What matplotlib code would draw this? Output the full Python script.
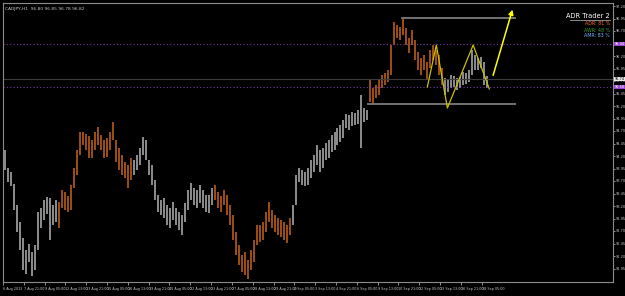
import matplotlib
matplotlib.use('Agg')
import matplotlib.pyplot as plt
import numpy as np

# CADJPY H1 bar highs / lows (one bar per ~4-5 hours)
highs = [94.32, 93.96, 93.88, 93.64, 93.22, 92.88, 92.56, 92.32, 92.44, 92.28,
         92.42, 93.08, 93.16, 93.32, 93.38, 93.36, 93.22, 93.32, 93.28, 93.52,
         93.48, 93.40, 93.62, 93.96, 94.32, 94.68, 94.68, 94.64, 94.60, 94.52,
         94.68, 94.78, 94.62, 94.52, 94.56, 94.68, 94.88, 94.52, 94.36, 94.22,
         94.08, 94.02, 94.16, 94.12, 94.22, 94.36, 94.58, 94.52, 94.12, 94.02,
         93.72, 93.42, 93.32, 93.36, 93.22, 93.16, 93.28, 93.16, 93.08, 93.02,
         93.26, 93.52, 93.66, 93.56, 93.52, 93.62, 93.52, 93.42, 93.42, 93.56,
         93.62, 93.48, 93.40, 93.52, 93.42, 93.22, 93.02, 92.68, 92.42, 92.22,
         92.28, 92.12, 92.32, 92.52, 92.82, 92.82, 92.88, 93.08, 93.28, 93.12,
         93.02, 92.96, 92.92, 92.88, 92.82, 92.96, 93.22, 93.82, 93.96, 93.92,
         93.88, 93.96, 94.12, 94.22, 94.42, 94.32, 94.36, 94.46, 94.52, 94.62,
         94.68, 94.76, 94.82, 94.92, 95.04, 95.02, 95.08, 95.06, 95.12, 95.42,
         95.16, 95.12, 95.72, 95.56, 95.62, 95.72, 95.82, 95.86, 95.92, 96.42,
         96.88, 96.82, 96.78, 96.94, 96.76, 96.56, 96.72, 96.52, 96.28, 96.16,
         96.22, 96.08, 96.32, 96.42, 96.32, 96.22, 95.96, 95.76, 95.72, 95.82,
         95.80, 95.76, 95.78, 95.88, 95.86, 95.92, 96.32, 96.22, 96.16, 96.18,
         96.08, 95.80]
lows = [93.92, 93.68, 93.60, 93.12, 92.68, 92.32, 91.92, 91.84, 92.08, 91.80,
        91.92, 92.32, 92.76, 92.92, 93.04, 92.52, 92.82, 92.88, 92.76, 93.16,
        93.12, 93.08, 93.12, 93.56, 93.82, 94.22, 94.42, 94.32, 94.16, 94.16,
        94.32, 94.42, 94.32, 94.16, 94.18, 94.32, 94.52, 94.08, 93.92, 93.82,
        93.76, 93.56, 93.72, 93.82, 93.92, 94.02, 94.22, 94.12, 93.82, 93.62,
        93.32, 93.08, 93.02, 92.96, 92.82, 92.76, 92.92, 92.82, 92.72, 92.62,
        92.88, 93.12, 93.32, 93.22, 93.16, 93.26, 93.16, 93.08, 93.06, 93.22,
        93.32, 93.16, 93.08, 93.22, 93.02, 92.82, 92.52, 92.22, 92.02, 91.88,
        91.82, 91.74, 91.92, 92.08, 92.42, 92.48, 92.52, 92.68, 92.88, 92.76,
        92.68, 92.62, 92.58, 92.52, 92.46, 92.62, 92.82, 93.22, 93.68, 93.62,
        93.60, 93.62, 93.76, 93.88, 94.02, 93.88, 93.96, 94.12, 94.16, 94.28,
        94.32, 94.42, 94.48, 94.56, 94.76, 94.72, 94.80, 94.82, 94.84, 94.36,
        94.88, 94.92, 95.28, 95.24, 95.36, 95.42, 95.56, 95.62, 95.68, 95.82,
        96.42, 96.56, 96.52, 96.62, 96.42, 96.26, 96.42, 96.12, 95.92, 95.82,
        95.92, 95.72, 95.96, 96.12, 96.02, 95.82, 95.62, 95.42, 95.48, 95.56,
        95.58, 95.52, 95.56, 95.62, 95.64, 95.68, 95.82, 95.92, 95.92, 95.96,
        95.62, 95.56]

# first bar of each trading week (colours alternate gray / orange)
week_starts = [0, 18, 43, 70, 96, 122, 147]
week_colors = ['#b4b4b4', '#c8641a']

# ADR Trader levels and pattern
level_high = 96.96
level_low = 95.24
level_high_from = 132.7
level_low_from = 121.3
level_to = 170.3
pivot_upper = 96.44
pivot_lower = 95.58
bid_price = 95.74
zigzag_x = [141.0, 144.0, 147.7, 156.3, 161.7]
zigzag_y = [95.58, 96.42, 95.16, 96.42, 95.54]
arrow_x = [162.7, 169.7]
arrow_y = [95.76, 97.18]

price_ticks = [91.95, 92.20, 92.45, 92.70, 92.95, 93.20, 93.45, 93.70, 93.95, 94.20, 94.45,
               94.70, 94.95, 95.20, 95.45, 95.70, 95.95, 96.20, 96.45, 96.70, 96.95, 97.20]
time_labels = ['6 Aug 2013', '7 Aug 21:00', '9 Aug 05:00', '12 Aug 13:00', '13 Aug 21:00',
               '15 Aug 05:00', '16 Aug 13:00', '19 Aug 21:00', '21 Aug 05:00', '22 Aug 13:00',
               '23 Aug 21:00', '27 Aug 05:00', '28 Aug 13:00', '29 Aug 21:00', '2 Sep 05:00',
               '3 Sep 13:00', '4 Sep 21:00', '6 Sep 05:00', '9 Sep 13:00', '10 Sep 21:00',
               '12 Sep 05:00', '13 Sep 13:00', '16 Sep 21:00', '18 Sep 05:00']
time_pos = [-0.7 + 6.95 * k for k in range(len(time_labels))]

# colour per bar
bar_x = np.arange(len(highs))
bar_colors = []
for i in bar_x:
    week = sum(1 for s in week_starts if s <= i) - 1
    bar_colors.append(week_colors[week % 2])

fig = plt.figure(figsize=(6.25, 2.96), dpi=100, facecolor='black')
ax = fig.add_axes([3 / 625, 1 - 282 / 296, 610 / 625, 279 / 296])
ax.set_facecolor('black')

ax.vlines(bar_x, lows, highs, colors=bar_colors, lw=1.1)

# horizontal lines
ax.axhline(pivot_upper, color='#7a34a8', lw=0.8, ls=(0, (1, 2)))
ax.axhline(pivot_lower, color='#7a34a8', lw=0.8, ls=(0, (1, 2)))
ax.axhline(bid_price, color='#3c3c3c', lw=0.8)
ax.plot([level_high_from, level_to], [level_high, level_high], color='#7c7c7c', lw=1.3)
ax.plot([level_low_from, level_to], [level_low, level_low], color='#7c7c7c', lw=1.3)

# yellow pattern and arrow
ax.plot(zigzag_x, zigzag_y, color='#c8c000', lw=0.9)
ax.annotate('', xy=(arrow_x[1], arrow_y[1]), xytext=(arrow_x[0], arrow_y[0]),
            arrowprops=dict(arrowstyle='-|>', color='#ffff00', lw=1.1, mutation_scale=7))

ax.set_xlim(-0.333, 203)
ax.set_ylim(91.68, 97.26)

# axes look
for side in ['left', 'right', 'bottom', 'top']:
    ax.spines[side].set_color('#8c8c8c')
    ax.spines[side].set_linewidth(0.8)
ax.yaxis.tick_right()
ax.set_yticks(price_ticks)
ax.set_yticklabels(['%.2f' % p for p in price_ticks])
ax.tick_params(axis='y', colors='#c8c8c8', labelsize=2.5, length=1.2, width=0.5, pad=0.6)
ax.set_xticks(time_pos)
ax.set_xticklabels(time_labels, ha='left')
ax.tick_params(axis='x', colors='#c8c8c8', labelsize=2.4, length=2, width=0.5, pad=1.5)

# price boxes on the right scale
for p, face, txt in [(pivot_upper, '#9a44d0', 'white'), (pivot_lower, '#9a44d0', 'white'),
                     (bid_price, '#e8e8e8', 'black')]:
    ax.text(1.0025, p, '%.2f' % p, transform=ax.get_yaxis_transform(), fontsize=2.5,
            color=txt, va='center', ha='left',
            bbox=dict(boxstyle='square,pad=0.12', fc=face, ec='none'))

# header texts
ax.text(0.004, 0.985, 'CADJPY,H1  96.80 96.85 96.78 96.82', transform=ax.transAxes,
        fontsize=3.2, color='#c8c8c8', va='top', ha='left')
ax.text(0.995, 0.955, 'ADR Trader 2', transform=ax.transAxes, fontsize=4.8,
        color='white', va='center', ha='right')
ax.plot([0.93, 0.995], [0.94, 0.94], transform=ax.transAxes, color='#a0a0a0', lw=0.6)
ax.text(0.995, 0.925, 'ADR: 81 %', transform=ax.transAxes, fontsize=3.4,
        color='#ff6a2a', va='center', ha='right')
ax.text(0.995, 0.903, 'AWR: 48 %', transform=ax.transAxes, fontsize=3.4,
        color='#34a034', va='center', ha='right')
ax.text(0.995, 0.883, 'AMR: 83 %', transform=ax.transAxes, fontsize=3.4,
        color='#7ab4ff', va='center', ha='right')

fig.savefig('out.png', dpi=100, facecolor='black')
